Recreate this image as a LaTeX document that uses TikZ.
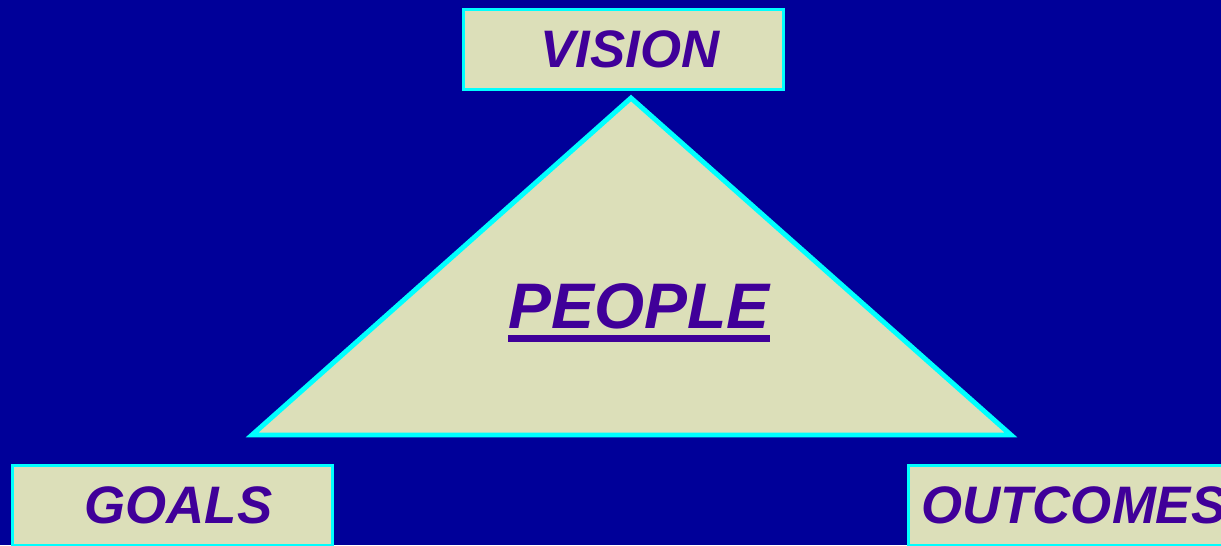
\documentclass[tikz,border=0pt]{standalone}
\usepackage{fontspec}
\setmainfont{Liberation Sans}
\usepackage{xcolor}
\usetikzlibrary{positioning}
\definecolor{slidebg}{HTML}{000099}
\definecolor{slidefill}{HTML}{DCDFB9}
\definecolor{slideedge}{HTML}{00FFFF}
\definecolor{slidetext}{HTML}{400099}

% thick underline, as on the slide
\newcommand{\heavyul}[1]{\vtop{\hbox{#1}\kern1.6pt\hrule height 2pt}}

\begin{document}
\begin{tikzpicture}[x=0.01cm, y=-0.01cm,
  corner box/.style={draw=slideedge, line width=0.85pt, fill=slidefill,
                     minimum width=3.2cm, minimum height=0.8cm, inner sep=0pt,
                     text=slidetext, font=\fontsize{15}{18}\selectfont\bfseries\itshape},
  apex/.style={draw=slideedge, line width=1.4pt, fill=slidefill, line join=miter},
  centre label/.style={text=slidetext, inner sep=0pt,
                       font=\fontsize{18.3}{22}\selectfont\bfseries\itshape},
]
  \useasboundingbox[fill=slidebg] (0,0) rectangle (1221,545);
  \clip (0,0) rectangle (1221,545);

  % The triangle.
  \coordinate (top) at (631,98);
  \coordinate (right) at (1011,435);
  \coordinate (left) at (252,435);
  \draw[apex] (top) -- (right) -- (left) -- cycle;
  \node[centre label] (people) at (639,313) {\heavyul{PEOPLE}};

  % Three corner boxes (the right one runs off the slide).
  \node[corner box] (vision) at (623.5,49.5) {\hspace*{3.7pt}VISION};
  \node[corner box] (goals) at (172.5,505.5) {\hspace*{3.4pt}GOALS};
  \node[corner box] (outcomes) at (1068.5,505.5) {\makebox[3.05cm][l]{\hspace*{1.6pt}OUTCOMES}};
\end{tikzpicture}
\end{document}
